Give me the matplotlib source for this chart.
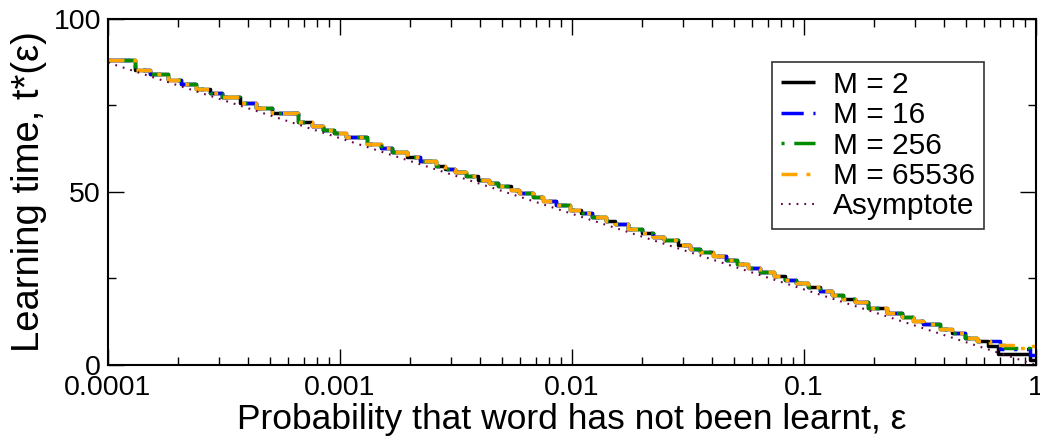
import numpy as np
import matplotlib
matplotlib.use("Agg")
import matplotlib.pyplot as plt
from matplotlib.ticker import FixedLocator, NullFormatter

plt.rcParams['font.family'] = ['Liberation Sans', 'DejaVu Sans']
plt.rcParams['lines.scale_dashes'] = False

# step edges (log10 eps) and learning time on each step, shared part of all curves
log_eps_common = [-4.000, -3.884, -3.819, -3.741, -3.685, -3.621, -3.560, -3.509,
                  -3.431, -3.362, -3.293, -3.181, -3.121, -3.073, -3.026, -2.974,
                  -2.884, -2.823, -2.776, -2.711, -2.655, -2.586, -2.547, -2.504,
                  -2.457, -2.405, -2.358, -2.319, -2.263, -2.228, -2.168, -2.125,
                  -2.069, -2.009, -1.961, -1.914, -1.853, -1.815, -1.759, -1.698,
                  -1.651, -1.603, -1.543, -1.491, -1.448, -1.392, -1.336, -1.289,
                  -1.241, -1.190, -1.129, -1.082, -1.034, -0.983, -0.931, -0.879,
                  -0.832, -0.780, -0.724, -0.642, -0.578, -0.530, -0.487, -0.414,
                  -0.362, -0.306]
t_common = [88.0, 85.3, 84.0, 82.4, 81.1, 79.8, 78.5, 77.4,
            75.8, 74.3, 72.8, 70.3, 69.0, 68.0, 67.0, 65.9,
            63.9, 62.6, 61.5, 60.0, 58.9, 57.5, 56.7, 55.7,
            54.7, 53.6, 52.6, 51.8, 50.6, 49.8, 48.5, 47.5,
            46.3, 44.9, 43.9, 42.8, 41.5, 40.7, 39.4, 38.1,
            37.1, 36.0, 34.7, 33.6, 32.7, 31.4, 30.2, 29.2,
            28.1, 27.0, 25.7, 24.6, 23.6, 22.5, 21.3, 20.2,
            19.2, 18.1, 16.5, 14.9, 13.8, 12.7, 11.8, 10.3,
            9.2, 7.9]

# the curves part near eps = 1
tail_log_eps = {
    2:     [-0.254, -0.207, -0.164, -0.026],
    16:    [-0.254, -0.155, -0.026],
    256:   [-0.254, -0.198, -0.134, -0.026],
    65536: [-0.254, -0.198, -0.069, -0.039],
}
tail_t = {
    2:     [6.9, 5.6, 3.2, 1.5],
    16:    [6.9, 4.6, 2.9],
    256:   [6.9, 5.8, 4.9, 3.8],
    65536: [6.9, 5.8, 4.8, 5.6],
}

# asymptote end points
asym_eps = [1e-4, 1.0]
asym_t = [87.4, 0.0]

styles = {
    2:     dict(color='black', dashes=None),
    16:    dict(color='#0000ff', dashes=(16, 7, 2.2, 7)),
    256:   dict(color='#008b00', dashes=(2.2, 7, 16, 7)),
    65536: dict(color='#ffa500', dashes=(11.5, 6.5, 2.8, 6.5)),
}

fig = plt.figure(figsize=(10.4, 4.37), dpi=100)
ax = fig.add_axes([0.1038, 0.1648, 0.8923, 0.7918])

for M in [2, 16, 256, 65536]:
    x = 10 ** np.array(log_eps_common + tail_log_eps[M] + [0.0])
    y = np.array(t_common + tail_t[M] + [tail_t[M][-1]])
    st = styles[M]
    line, = ax.plot(x, y, drawstyle='steps-post', color=st['color'], lw=2.5,
                    label=f'M = {M}', solid_capstyle='butt', dash_capstyle='butt')
    if st['dashes'] is not None:
        line.set_dashes(st['dashes'])

ax.plot(asym_eps, asym_t, color='#670748', lw=1.5, dashes=(1.3, 4.3),
        label='Asymptote')

ax.set_xscale('log')
ax.set_xlim(1e-4, 1)
ax.set_ylim(0, 100)

ax.xaxis.set_major_locator(FixedLocator([1e-4, 1e-3, 1e-2, 1e-1, 1]))
ax.set_xticklabels(['0.0001', '0.001', '0.01', '0.1', '1'])
minors = [m * 10.0 ** e for e in range(-4, 0) for m in range(2, 10)]
ax.xaxis.set_minor_locator(FixedLocator(minors))
ax.xaxis.set_minor_formatter(NullFormatter())
ax.yaxis.set_major_locator(FixedLocator([0, 50, 100]))
ax.yaxis.set_minor_locator(FixedLocator([25, 75]))

ax.tick_params(which='both', direction='in', top=True, right=True, width=1.0,
               labelsize=20.5, pad=7)
ax.tick_params(axis='y', pad=5)
ax.tick_params(which='major', length=11.5)
ax.tick_params(which='minor', length=6)
for sp in ax.spines.values():
    sp.set_linewidth(1.5)

ax.set_xlabel('Probability that word has not been learnt, ε', fontsize=25.5, labelpad=2)
ax.set_ylabel('Learning time, t*(ε)', fontsize=27.5, labelpad=5)

leg = ax.legend(loc='upper right', bbox_to_anchor=(0.944, 0.876), fontsize=21.5,
                frameon=True, fancybox=False, handlelength=1.14, handletextpad=0.6,
                labelspacing=0.08, borderpad=0.3, borderaxespad=0)
leg.get_frame().set_edgecolor('black')
leg.get_frame().set_linewidth(1.2)

fig.savefig('out.png', dpi=100)
